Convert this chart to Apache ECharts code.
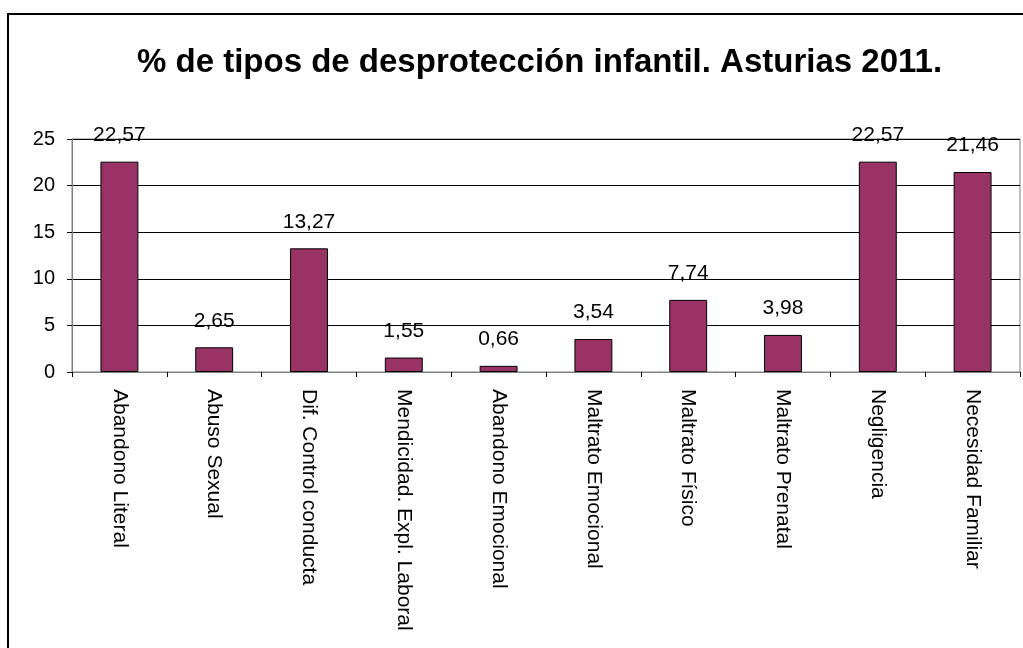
<!DOCTYPE html>
<html>
<head>
<meta charset="utf-8">
<script src="https://cdn.jsdelivr.net/npm/echarts@6/dist/echarts.min.js"></script>
<style>
  html, body { margin: 0; padding: 0; background: #fff; }
  #chart { width: 1023px; height: 648px; }
</style>
</head>
<body>
<div id="chart"></div>
<script>
const titleText = '% de tipos de desprotección infantil. Asturias 2011.'
const categories = [
  'Abandono Literal', 'Abuso Sexual', 'Dif. Control conducta', 'Mendicidad. Expl. Laboral',
  'Abandono Emocional', 'Maltrato Emocional', 'Maltrato Físico', 'Maltrato Prenatal',
  'Negligencia', 'Necesidad Familiar'
]
const values = [22.57, 2.65, 13.27, 1.55, 0.66, 3.54, 7.74, 3.98, 22.57, 21.46]

const fontFamily = 'Liberation Sans, Arial, sans-serif'
const chart = echarts.init(document.getElementById('chart'))

chart.setOption({
  animation: false,
  title: {
    text: titleText,
    left: 132,
    top: 41,
    textStyle: { color: '#000', fontSize: 33, fontWeight: 'bold', fontFamily }
  },
  // marco exterior del gráfico
  graphic: [{
    type: 'rect',
    shape: { x: 8, y: 14, width: 1030, height: 660 },
    style: { fill: 'none', stroke: '#000', lineWidth: 2 },
    z: 100
  }],
  grid: {
    left: 72, top: 139, right: 3, bottom: 276,
    show: true, borderColor: '#808080', borderWidth: 1
  },
  xAxis: {
    type: 'category',
    data: categories,
    axisLine: { lineStyle: { color: '#808080' } },
    axisTick: { show: true, length: 5, lineStyle: { color: '#000' } },
    axisLabel: {
      rotate: -90, margin: 17, interval: 0,
      color: '#000', fontSize: 21, fontFamily
    }
  },
  yAxis: {
    type: 'value',
    min: 0, max: 25, interval: 5,
    axisLine: { show: true, lineStyle: { color: '#808080' } },
    axisTick: { show: true, length: 5, lineStyle: { color: '#000' } },
    axisLabel: { color: '#000', fontSize: 20, margin: 17, fontFamily },
    splitLine: { lineStyle: { color: '#000', width: 1 } }
  },
  series: [{
    type: 'bar',
    data: values,
    barWidth: '40%',
    itemStyle: { color: '#993366', borderColor: '#000', borderWidth: 1 },
    label: {
      show: true, position: 'top', distance: 16,
      color: '#000', fontSize: 21, fontFamily,
      formatter: p => p.value.toFixed(2).replace('.', ',')
    }
  }]
})
</script>
</body>
</html>
